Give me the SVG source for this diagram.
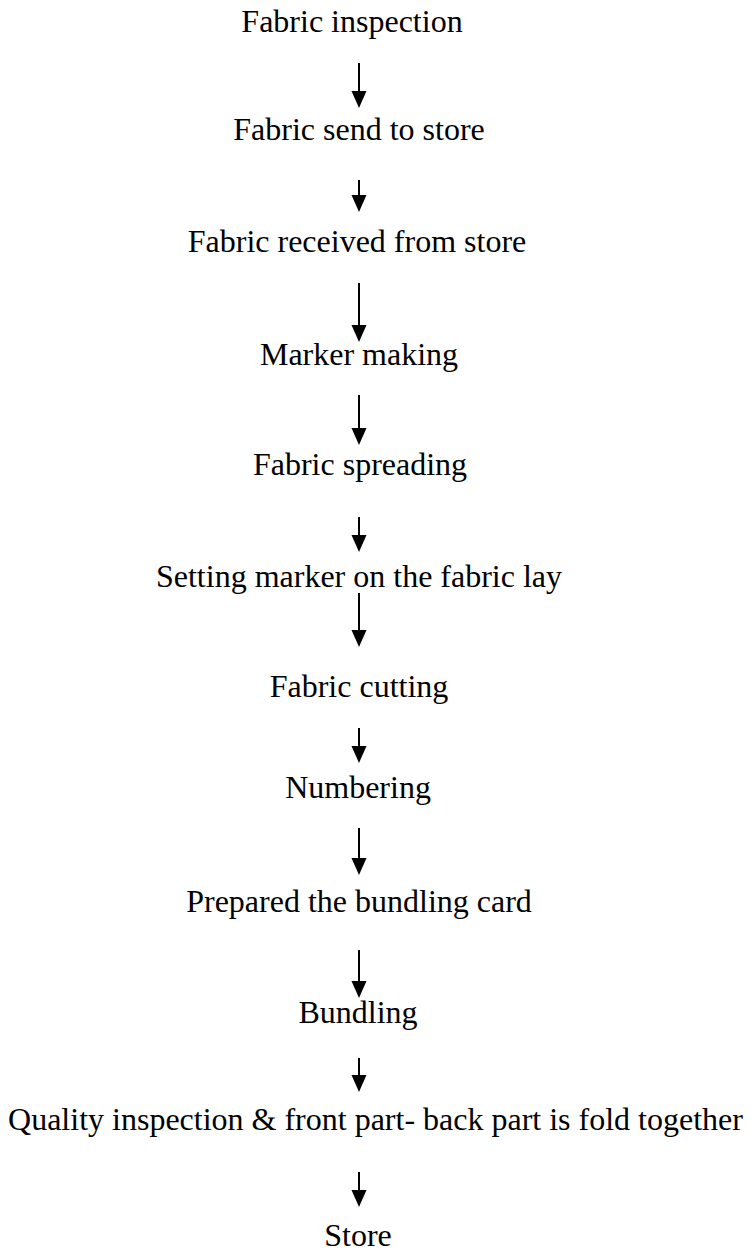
<svg xmlns="http://www.w3.org/2000/svg" width="751" height="1252" viewBox="0 0 751 1252">
  <style>
    .step { font-family: "Liberation Serif", "Times New Roman", serif; font-size: 32px; fill: #000; text-anchor: middle; }
    .shaft { stroke: #000; stroke-width: 2; fill: none; }
    .head { fill: #000; stroke: none; }
  </style>
  <defs>
    <!-- solid downward arrowhead, tip at (0,0) -->
    <polygon id="tip" points="-7.5,-17 7.5,-17 0,0"/>
  </defs>
  <rect width="751" height="1252" fill="#fff"/>

  <g id="n1"><text class="step" x="352" y="32">Fabric inspection</text></g>
  <g id="n2"><text class="step" x="359" y="140">Fabric send to store</text></g>
  <g id="n3"><text class="step" x="357" y="252">Fabric received from store</text></g>
  <g id="n4"><text class="step" x="359" y="365">Marker making</text></g>
  <g id="n5"><text class="step" x="360" y="475">Fabric spreading</text></g>
  <g id="n6"><text class="step" x="359" y="587">Setting marker on the fabric lay</text></g>
  <g id="n7"><text class="step" x="359" y="697">Fabric cutting</text></g>
  <g id="n8"><text class="step" x="358" y="798">Numbering</text></g>
  <g id="n9"><text class="step" x="359" y="912">Prepared the bundling card</text></g>
  <g id="n10"><text class="step" x="358" y="1023">Bundling</text></g>
  <g id="n11"><text class="step" x="375.5" y="1130">Quality inspection &amp; front part- back part is fold together</text></g>
  <g id="n12"><text class="step" x="358" y="1246">Store</text></g>

  <g id="connectors">
    <!-- vertical shafts between consecutive steps -->
    <path class="shaft" d="M359,63 V92 M359,180 V196 M359,283 V326 M359,395 V429 M359,517 V536 M359,593 V631 M359,728 V747 M359,828 V859 M359,950 V982 M359,1058 V1076 M359,1172 V1191"/>
    <!-- arrowheads ending just above the next step -->
    <g class="head">
      <use href="#tip" x="359" y="108"/>
      <use href="#tip" x="359" y="212"/>
      <use href="#tip" x="359" y="342"/>
      <use href="#tip" x="359" y="445"/>
      <use href="#tip" x="359" y="552"/>
      <use href="#tip" x="359" y="647"/>
      <use href="#tip" x="359" y="763"/>
      <use href="#tip" x="359" y="875"/>
      <use href="#tip" x="359" y="998"/>
      <use href="#tip" x="359" y="1092"/>
      <use href="#tip" x="359" y="1207"/>
    </g>
  </g>
</svg>
